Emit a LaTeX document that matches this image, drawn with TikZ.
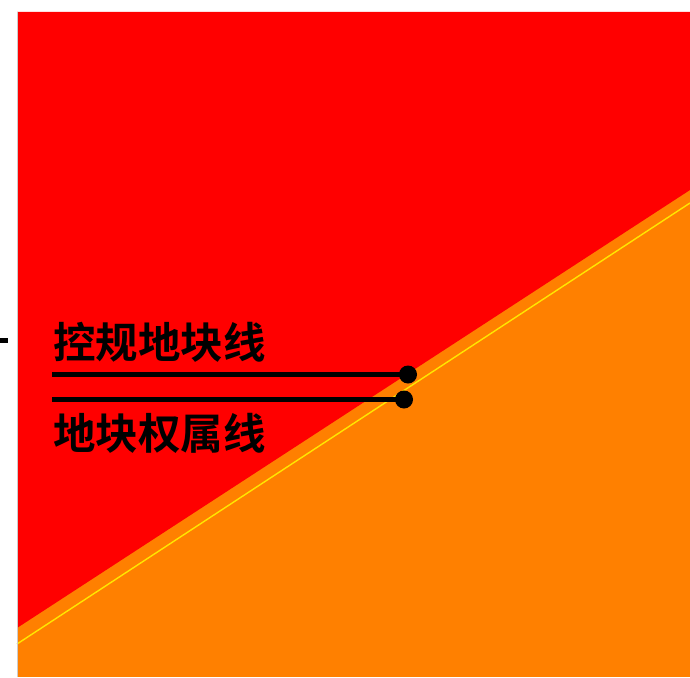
\documentclass[tikz,border=0pt]{standalone}
\usepackage{fontspec}
\newfontfamily\cjk{Noto Sans CJK SC}[BoldFont={* Bold}]
\definecolor{lred}{RGB}{255,0,0}
\definecolor{lorange}{RGB}{255,128,0}
\definecolor{lyellow}{RGB}{255,230,0}
\tikzset{
  leader/.style={line width=5pt, black},
  dotend/.style={circle, fill=black, inner sep=0pt, minimum size=18pt},
  lbl/.style={anchor=base west, inner sep=0pt, font=\cjk\bfseries\fontsize{42.5}{42.5}\selectfont}
}
\begin{document}
\begin{tikzpicture}[x=1pt,y=-1pt]
\useasboundingbox (0,0) rectangle (690,677);
% regions
\fill[lorange] (17,12) rectangle (690,677);
\fill[lred] (17,12) -- (690,12) -- (690,190) -- (17,628) -- cycle;
\draw[lyellow, line width=1.4pt] (17,644) -- (690,203);
\draw[black!20, line width=0.8pt] (17.4,12) -- (17.4,677);
% tick
\coordinate (t1) at (0,340);
\coordinate (t2) at (8,340);
\draw[line width=5pt] (t1) -- (t2);
% dots and leaders
\node[dotend] (d1) at (408,374.5) {};
\node[dotend] (d2) at (404,399.5) {};
\coordinate (s1) at (52,374.5);
\coordinate (s2) at (52,399.5);
\draw[leader] (s1) -- (d1.center);
\draw[leader] (s2) -- (d2.center);
% labels
\node[lbl] (l1) at (53,358) {控规地块线};
\node[lbl] (l2) at (53,449) {地块权属线};
\end{tikzpicture}
\end{document}
